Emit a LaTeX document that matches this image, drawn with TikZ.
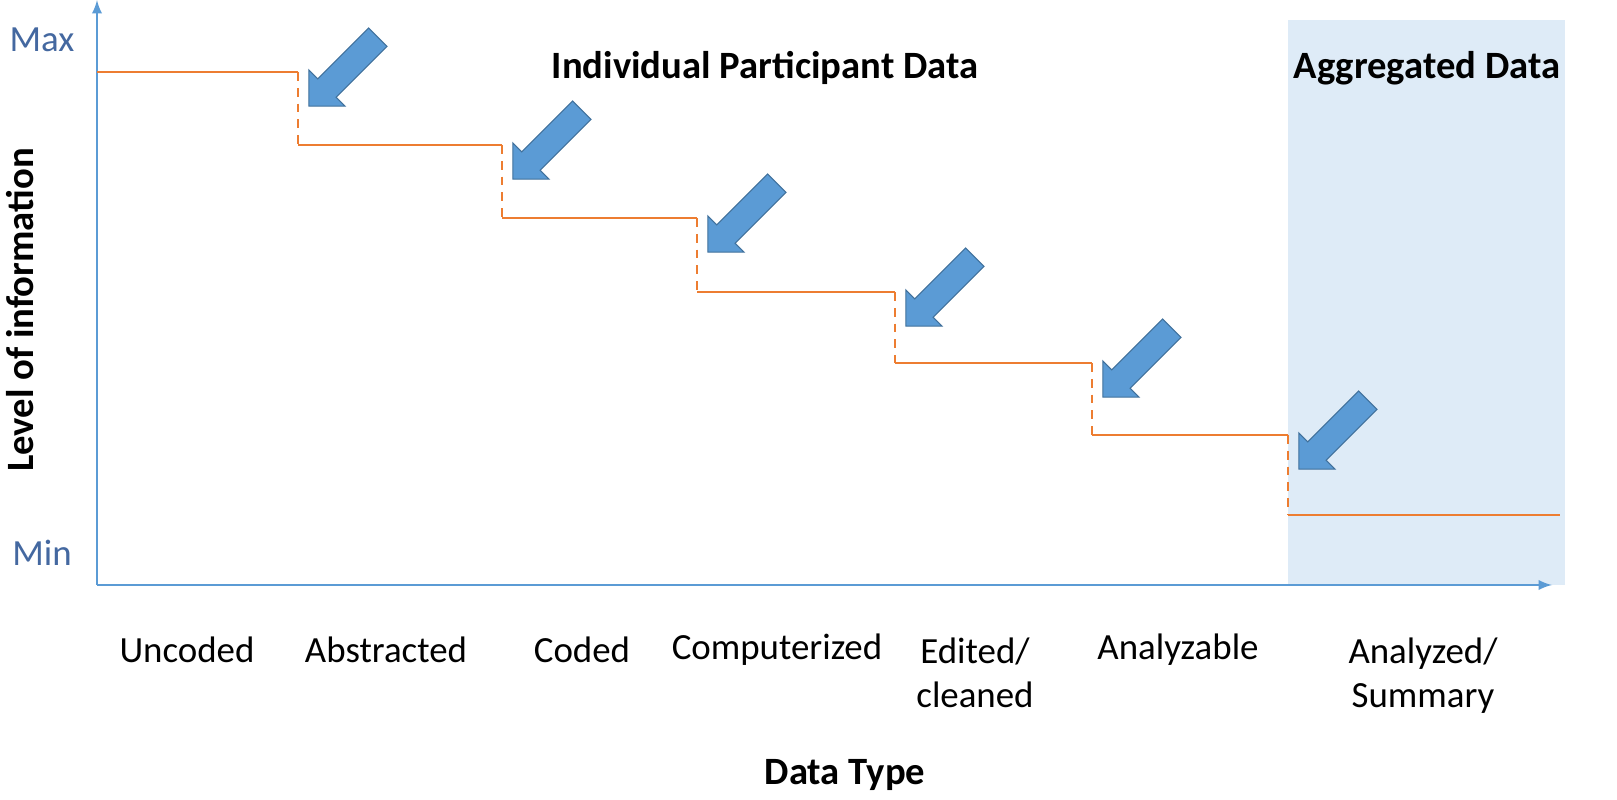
\documentclass[tikz,border=0pt]{standalone}
\usepackage{fontspec}
\setmainfont{Carlito}
\usetikzlibrary{shapes.arrows}
\definecolor{axisblue}{RGB}{91,155,213}
\definecolor{txtblue}{RGB}{68,104,160}
\definecolor{stepor}{RGB}{237,125,49}
\definecolor{aggfill}{RGB}{222,235,247}
\definecolor{arrline}{RGB}{65,113,156}
\tikzset{
  axis/.style = {draw=axisblue, line width=1.6pt, -latex},
  stair/.style = {draw=stepor, line width=1.5pt},
  drop/.style = {stair, dash pattern=on 5pt off 4pt},
  cat/.style = {font=\fontsize{21}{25}\selectfont, align=center},
  ttl/.style = {font=\fontsize{22}{26}\selectfont\bfseries},
  pointer/.style = {single arrow, fill=axisblue, draw=arrline, line width=0.6pt,
    minimum height=1.95cm, inner sep=0.25cm, single arrow head extend=0.25cm,
    rotate=225}
}
\begin{document}
\begin{tikzpicture}[x=0.02cm, y=-0.02cm]
  \useasboundingbox (0,0) rectangle (1617,800);
  \fill[aggfill] (1288,20) rectangle (1565,585);
  % axes
  \coordinate (o) at (97,585);
  \coordinate (ytop) at (97,0);
  \coordinate (xend) at (1552,585);
  \draw[axis] (o) -- (ytop);
  \draw[axis] (o) -- (xend);
  \node[cat, text=txtblue] (max) at (42,40) {Max};
  \node[cat, text=txtblue] (min) at (42,553) {Min};
  % staircase
  \coordinate (s0) at (97,72);
  \foreach \x/\a/\b [count=\i] in {298/72/145, 502/145/218, 697/218/292, 895/292/363, 1092/363/435, 1288/435/515}{
    \coordinate (t\i) at (\x,\a);
    \coordinate (b\i) at (\x,\b);
    \draw[drop] (t\i) -- (b\i);
    \node[pointer] (p\i) at (\x+50,\a-5) {};
  }
  \coordinate (s7) at (1560,515);
  \draw[stair] (s0) -- (t1);
  \foreach \i/\j in {1/2, 2/3, 3/4, 4/5, 5/6}
    \draw[stair] (b\i) -- (t\j);
  \draw[stair] (b6) -- (s7);
  % labels
  \node[ttl] (indiv) at (765,68) {Individual Participant Data};
  \node[ttl] (aggr) at (1427,68) {Aggregated Data};
  \node[ttl, rotate=90] (level) at (20,310) {Level of information};
  \node[ttl] (dtype) at (845,775) {Data Type};
  \foreach \x/\t/\n in {187/Uncoded/unc, 386/Abstracted/abs, 582/Coded/cod, 777/Computerized/com, 1178/Analyzable/anl}
    \node[cat] (\n) at (\x,650) {\t};
  \node[cat, anchor=north] (edt) at (975,632) {Edited/\\cleaned};
  \node[cat, anchor=north] (sum) at (1423,632) {Analyzed/\\Summary};
\end{tikzpicture}
\end{document}
